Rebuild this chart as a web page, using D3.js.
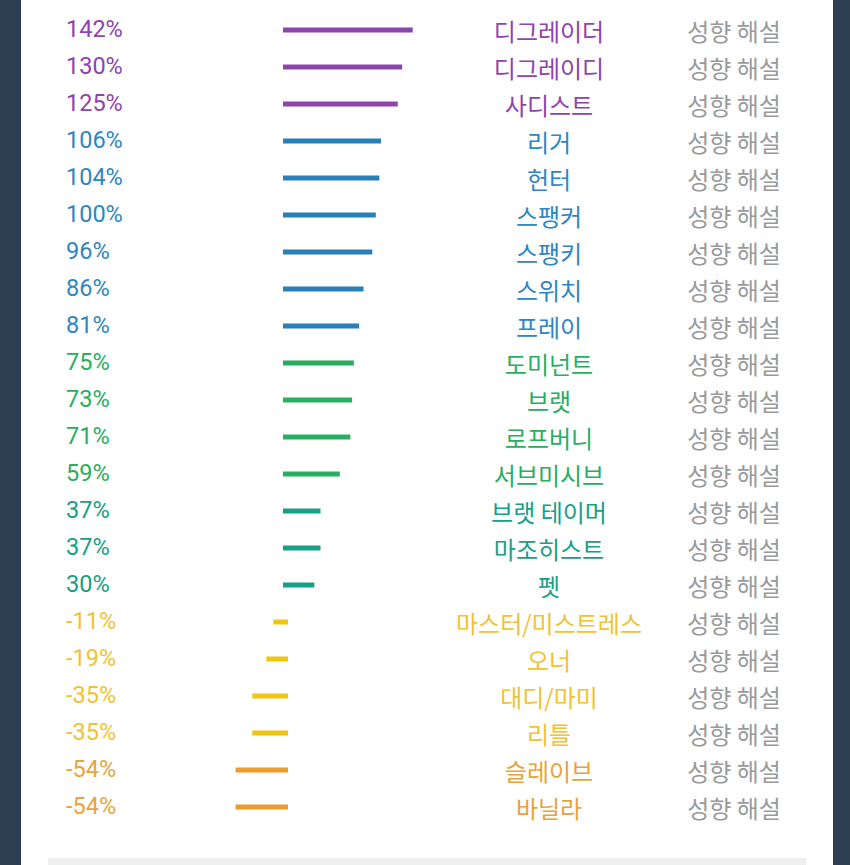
<!DOCTYPE html>
<html><head><meta charset="utf-8">
<script src="https://cdn.jsdelivr.net/npm/d3@7"></script>
<style>
html,body{margin:0;padding:0;background:#2c3e50;}
svg{display:block;}
</style></head>
<body>
<script>
const names = ["디그레이더","디그레이디","사디스트","리거","헌터","스팽커","스팽키","스위치","프레이","도미넌트","브랫","로프버니","서브미시브","브랫 테이머","마조히스트","펫","마스터/미스트레스","오너","대디/마미","리틀","슬레이브","바닐라"];
const values = [142,130,125,106,104,100,96,86,81,75,73,71,59,37,37,30,-11,-19,-35,-35,-54,-54];
const groups = ["purple","purple","purple","blue","blue","blue","blue","blue","blue","green","green","green","green","teal","teal","teal","yellow","yellow","yellow","yellow","orange","orange"];
const linkLabel = "성향 해설";
const palette = {purple:"#8e44ad", blue:"#2980b9", green:"#27ae60", teal:"#16a085", yellow:"#f1c40f", orange:"#eb9c2c"};
const textPalette = {purple:"#8e44ad", blue:"#2e86c1", green:"#27ae60", teal:"#16a085", yellow:"#f1c232", orange:"#e8a33a"};

const W = 850, H = 865;
const svg = d3.select("body").append("svg").attr("width", W).attr("height", H);
svg.append("rect").attr("x",0).attr("y",0).attr("width",W).attr("height",H).attr("fill","#2c3e50");
svg.append("rect").attr("x",21).attr("y",0).attr("width",812).attr("height",H).attr("fill","#ffffff");
svg.append("rect").attr("x",48).attr("y",858).attr("width",758).attr("height",7).attr("fill","#eef0f0");

const y = d3.scalePoint().domain(d3.range(names.length)).range([30, 807]);
const x = d3.scaleLinear().domain([0, 142]).range([288, 288 + 124.7]);
const capPad = 5;

const rows = svg.append("g").selectAll("g").data(values).join("g")
  .attr("transform", (d,i) => `translate(0,${y(i)})`);

rows.append("text")
  .attr("x", 66).attr("y", -1.5).attr("dy", "0.35em")
  .attr("font-family", "Roboto, 'Noto Sans', sans-serif")
  .attr("font-size", 23.5)
  .attr("fill", (d,i) => textPalette[groups[i]])
  .text(d => d + "%");

rows.append("rect")
  .attr("x", d => x(Math.min(0,d)) - capPad)
  .attr("y", -2.5)
  .attr("width", d => Math.abs(x(d) - x(0)) + capPad)
  .attr("height", 5)
  .attr("fill", (d,i) => palette[groups[i]]);

rows.append("text")
  .attr("x", 549).attr("y", 3).attr("dy", "0.35em")
  .attr("text-anchor", "middle")
  .attr("font-family", "'Noto Sans CJK KR', sans-serif")
  .attr("font-size", 24)
  .attr("fill", (d,i) => textPalette[groups[i]])
  .text((d,i) => names[i]);

rows.append("text")
  .attr("x", 734).attr("y", 3).attr("dy", "0.35em")
  .attr("text-anchor", "middle")
  .attr("font-family", "'Noto Sans CJK KR', sans-serif")
  .attr("font-size", 24)
  .attr("fill", "#9a9a9a")
  .text(linkLabel);
</script>
</body></html>
